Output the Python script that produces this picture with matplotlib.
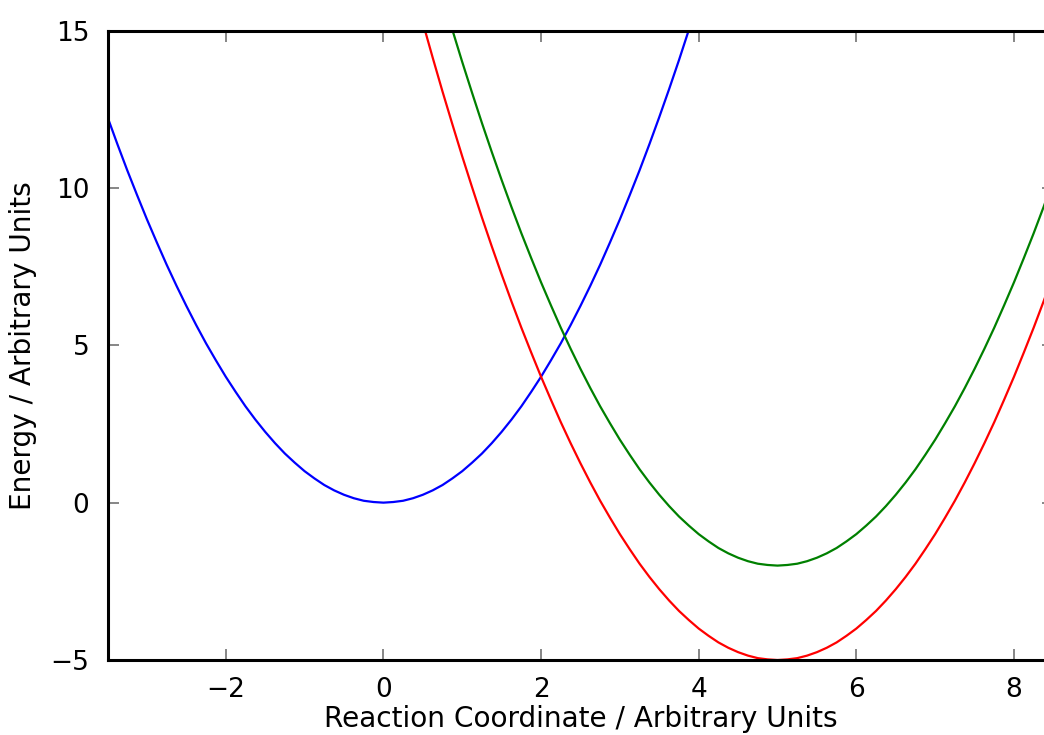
"""
Potential energy curves along a reaction coordinate (three harmonic wells).
"""
import matplotlib
matplotlib.use("Agg")
import matplotlib.pyplot as plt

# ---------------------------------------------------------------------------
# Data (every 0.125 along x)
# ---------------------------------------------------------------------------

blue_x = [-3.5, -3.375, -3.25, -3.125, -3.0, -2.875, -2.75, -2.625, -2.5, -2.375,
          -2.25, -2.125, -2.0, -1.875, -1.75, -1.625, -1.5, -1.375, -1.25, -1.125,
          -1.0, -0.875, -0.75, -0.625, -0.5, -0.375, -0.25, -0.125, 0.0, 0.125,
          0.25, 0.375, 0.5, 0.625, 0.75, 0.875, 1.0, 1.125, 1.25, 1.375,
          1.5, 1.625, 1.75, 1.875, 2.0, 2.125, 2.25, 2.375, 2.5, 2.625,
          2.75, 2.875, 3.0, 3.125, 3.25, 3.375, 3.5, 3.625, 3.75, 3.875, 4.0]
blue_y = [12.25, 11.39, 10.56, 9.77, 9.0, 8.27, 7.56, 6.89, 6.25, 5.64,
          5.06, 4.52, 4.0, 3.52, 3.06, 2.64, 2.25, 1.89, 1.56, 1.27,
          1.0, 0.77, 0.56, 0.39, 0.25, 0.14, 0.06, 0.02, 0.0, 0.02,
          0.06, 0.14, 0.25, 0.39, 0.56, 0.77, 1.0, 1.27, 1.56, 1.89,
          2.25, 2.64, 3.06, 3.52, 4.0, 4.52, 5.06, 5.64, 6.25, 6.89,
          7.56, 8.27, 9.0, 9.77, 10.56, 11.39, 12.25, 13.14, 14.06, 15.02, 16.0]

well_x = [0.5, 0.625, 0.75, 0.875, 1.0, 1.125, 1.25, 1.375, 1.5, 1.625,
          1.75, 1.875, 2.0, 2.125, 2.25, 2.375, 2.5, 2.625, 2.75, 2.875,
          3.0, 3.125, 3.25, 3.375, 3.5, 3.625, 3.75, 3.875, 4.0, 4.125,
          4.25, 4.375, 4.5, 4.625, 4.75, 4.875, 5.0, 5.125, 5.25, 5.375,
          5.5, 5.625, 5.75, 5.875, 6.0, 6.125, 6.25, 6.375, 6.5, 6.625,
          6.75, 6.875, 7.0, 7.125, 7.25, 7.375, 7.5, 7.625, 7.75, 7.875,
          8.0, 8.125, 8.25, 8.375, 8.5]
red_y = [15.25, 14.14, 13.06, 12.02, 11.0, 10.02, 9.06, 8.14, 7.25, 6.39,
         5.56, 4.77, 4.0, 3.27, 2.56, 1.89, 1.25, 0.64, 0.06, -0.48,
         -1.0, -1.48, -1.94, -2.36, -2.75, -3.11, -3.44, -3.73, -4.0, -4.23,
         -4.44, -4.61, -4.75, -4.86, -4.94, -4.98, -5.0, -4.98, -4.94, -4.86,
         -4.75, -4.61, -4.44, -4.23, -4.0, -3.73, -3.44, -3.11, -2.75, -2.36,
         -1.94, -1.48, -1.0, -0.48, 0.06, 0.64, 1.25, 1.89, 2.56, 3.27,
         4.0, 4.77, 5.56, 6.39, 7.25]
green_y = [18.25, 17.14, 16.06, 15.02, 14.0, 13.02, 12.06, 11.14, 10.25, 9.39,
           8.56, 7.77, 7.0, 6.27, 5.56, 4.89, 4.25, 3.64, 3.06, 2.52,
           2.0, 1.52, 1.06, 0.64, 0.25, -0.11, -0.44, -0.73, -1.0, -1.23,
           -1.44, -1.61, -1.75, -1.86, -1.94, -1.98, -2.0, -1.98, -1.94, -1.86,
           -1.75, -1.61, -1.44, -1.23, -1.0, -0.73, -0.44, -0.11, 0.25, 0.64,
           1.06, 1.52, 2.0, 2.52, 3.06, 3.64, 4.25, 4.89, 5.56, 6.27,
           7.0, 7.77, 8.56, 9.39, 10.25]

x_ticks = [-2, 0, 2, 4, 6, 8]
y_ticks = [-5, 0, 5, 10, 15]

# ---------------------------------------------------------------------------
# Figure
# ---------------------------------------------------------------------------

plt.rcParams["font.family"] = "DejaVu Sans"

fig = plt.figure(figsize=(10.44, 7.35), dpi=100)
# right edge of the axes sits just outside the canvas, as in the reference
ax = fig.add_axes([0.103, 0.102, 0.906, 0.8565])

ax.plot(blue_x, blue_y, color="#0000ff", lw=1.6)
ax.plot(well_x, green_y, color="#008000", lw=1.6)
ax.plot(well_x, red_y, color="#ff0000", lw=1.6)

ax.set_xlim(-3.5, 8.5)
ax.set_ylim(-5, 15)
ax.set_xticks(x_ticks)
ax.set_yticks(y_ticks)
ax.set_xticklabels([f"{t}".replace("-", "\u2212") for t in x_ticks])
ax.set_yticklabels([f"{t}".replace("-", "\u2212") for t in y_ticks])

ax.tick_params(direction="in", length=8, width=1.1, color="#666666",
               top=True, right=True, labelsize=19)
ax.tick_params(axis="x", pad=12)
ax.tick_params(axis="y", pad=13)
for sp in ax.spines.values():
    sp.set_linewidth(2.2)

ax.set_xlabel("Reaction Coordinate / Arbitrary Units", fontsize=20.2, labelpad=2)
ax.set_ylabel("Energy / Arbitrary Units", fontsize=20.2, labelpad=10)

fig.savefig("out.png", dpi=100)
plt.close(fig)
